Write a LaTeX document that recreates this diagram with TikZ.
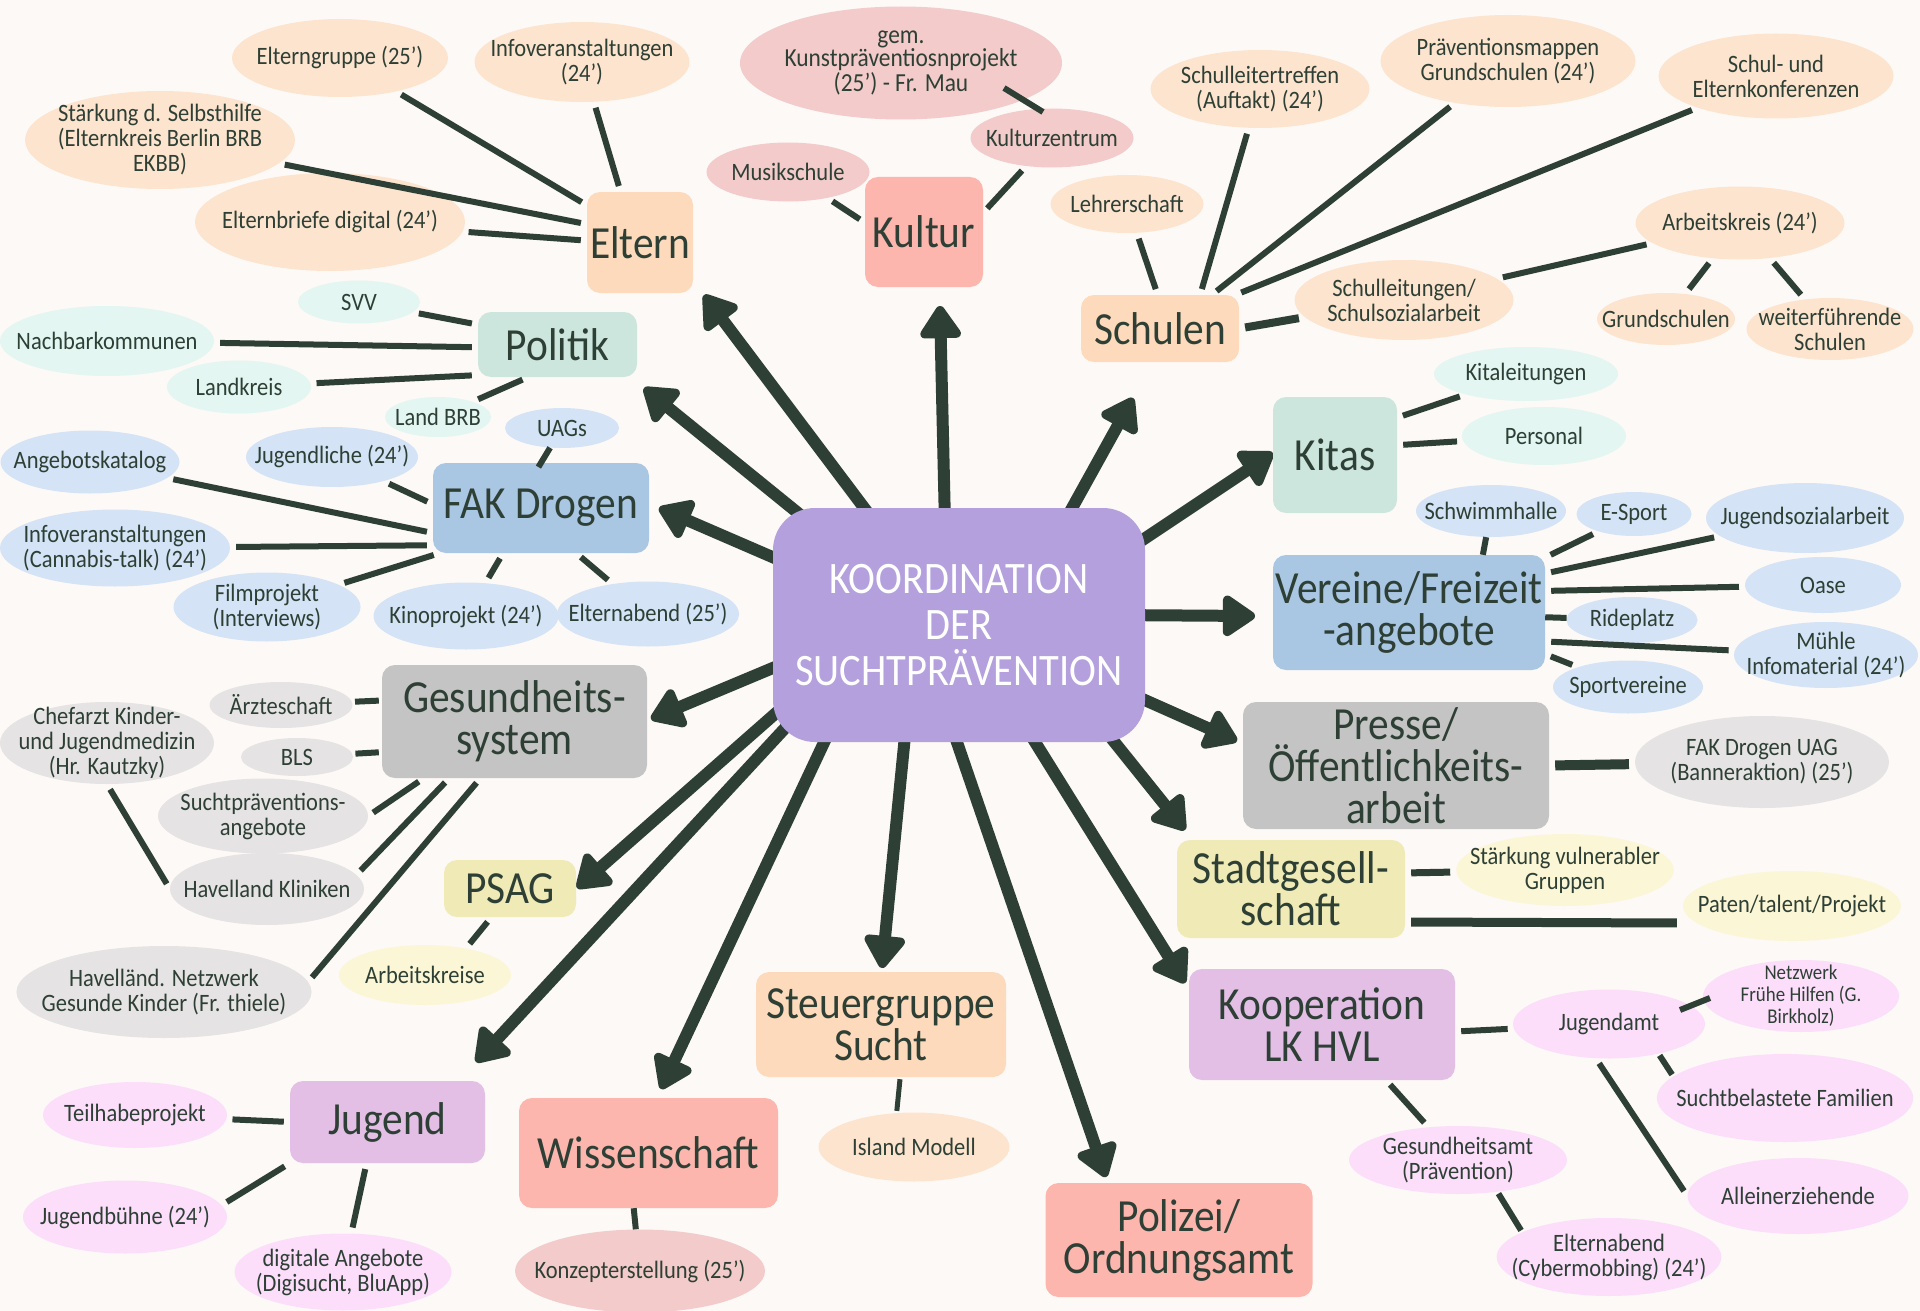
\documentclass[tikz,border=0pt]{standalone}
\usepackage{fontspec}
\setmainfont{Carlito}[FakeStretch=0.9]
\usetikzlibrary{shapes.geometric,arrows.meta,calc}
\pgfdeclarelayer{bg}
\pgfsetlayers{bg,main}
\definecolor{ink}{HTML}{2E4035}
\definecolor{bgc}{HTML}{FDF9F6}
\definecolor{peach}{HTML}{FDDABB}
\definecolor{peachL}{HTML}{FDE4CF}
\definecolor{salmon}{HTML}{FDB6AE}
\definecolor{pinkL}{HTML}{F2CBCA}
\definecolor{mint}{HTML}{CCE6DE}
\definecolor{mintL}{HTML}{E3F6F2}
\definecolor{boxblue}{HTML}{A9C6E3}
\definecolor{blueL}{HTML}{D4E3F5}
\definecolor{grayB}{HTML}{C4C4C4}
\definecolor{grayL}{HTML}{E5E3E3}
\definecolor{yel}{HTML}{F0EBB6}
\definecolor{yelL}{HTML}{FBF6D5}
\definecolor{lav}{HTML}{E3BFE6}
\definecolor{lavL}{HTML}{FCDEFB}
\definecolor{purp}{HTML}{B3A0DD}
\newcommand{\lblf}{\fontsize{25}{25}\selectfont}
\newcommand{\boxf}{\fontsize{46}{42}\selectfont}
\newcommand{\cenf}{\fontsize{45}{46}\selectfont}
\tikzset{
  ell/.style={ellipse, inner xsep=-18pt, inner ysep=-8pt, align=center, text=ink, font=\lblf},
  box/.style={rectangle, rounded corners=13pt, inner sep=0pt, align=center, text=ink, font=\boxf},
  con/.style={draw=ink, line width=6pt, shorten <=6pt, shorten >=6pt},
  tight/.style={shorten <=0pt, shorten >=0pt},
  arr/.style={draw=ink, line width=12pt, shorten <=-30pt, -{Triangle[length=36pt,width=46pt,round]}},
}
\begin{document}
\begin{tikzpicture}[x=1pt,y=-1pt]
\useasboundingbox (0,0) rectangle (1920,1311);

% centre
\node[box, fill=purp, text=white, font=\cenf, minimum width=372, minimum height=234, rounded corners=42pt] (k) at (959,625) {KOORDINATION\\DER\\SUCHTPRÄVENTION};

% main boxes
\node[box, fill=peach, minimum width=106, minimum height=101] (eltern) at (640,242.5) {Eltern};
\node[box, fill=salmon, minimum width=118, minimum height=110] (kultur) at (924,232) {Kultur};
\node[box, fill=peach, minimum width=158, minimum height=67] (schulen) at (1160,328.5) {Schulen};
\node[box, fill=mint, minimum width=159, minimum height=65] (politik) at (557.5,344.5) {Politik};
\node[box, fill=boxblue, minimum width=216, minimum height=90] (fak) at (541,508) {FAK Drogen};
\node[box, fill=mint, minimum width=124, minimum height=116] (kitas) at (1335,455) {Kitas};
\node[box, fill=boxblue, minimum width=272, minimum height=115] (vereine) at (1409,612.5) {Vereine/Freizeit\\-angebote};
\node[box, fill=grayB, minimum width=265, minimum height=113] (gesund) at (514.5,721.5) {Gesundheits-\\system};
\node[box, fill=grayB, minimum width=306, minimum height=127] (presse) at (1396,765.5) {Presse/\\Öffentlichkeits-\\arbeit};
\node[box, fill=yel, minimum width=132, minimum height=57] (psag) at (510,888.5) {PSAG};
\node[box, fill=yel, minimum width=228, minimum height=98] (stadt) at (1291,889) {Stadtgesell-\\schaft};
\node[box, fill=peach, minimum width=250, minimum height=105] (steuer) at (881,1024.5) {Steuergruppe\\Sucht};
\node[box, fill=lav, minimum width=266, minimum height=111] (koop) at (1322,1024.5) {Kooperation\\LK HVL};
\node[box, fill=lav, minimum width=195, minimum height=82] (jugend) at (387.5,1122) {Jugend};
\node[box, fill=salmon, minimum width=259, minimum height=110] (wiss) at (648.5,1153) {Wissenschaft};
\node[box, fill=salmon, minimum width=267, minimum height=114] (polizei) at (1179,1240) {Polizei/\\Ordnungsamt};

% Eltern
\node[ell, fill=peachL, minimum width=216, minimum height=78] (e1) at (340,58) {Elterngruppe (25')};
\node[ell, fill=peachL, minimum width=215, minimum height=80] (e2) at (582,62) {Infoveranstaltungen\\(24')};
\node[ell, fill=peachL, minimum width=270, minimum height=98] (e3) at (160,140) {Stärkung d. Selbsthilfe\\(Elternkreis Berlin BRB\\EKBB)};
\node[ell, fill=peachL, minimum width=270, minimum height=98] (e4) at (330,222) {Elternbriefe digital (24')};
% Kultur
\node[ell, fill=pinkL, minimum width=322, minimum height=113, font=\fontsize{26}{23}\selectfont] (k1) at (901,63) {gem.\\Kunstpräventiosnprojekt\\(25') - Fr. Mau};
\node[ell, fill=pinkL, minimum width=163, minimum height=59] (k2) at (1052,138) {Kulturzentrum};
\node[ell, fill=pinkL, minimum width=163, minimum height=59] (k3) at (788,172) {Musikschule};
% Schulen
\node[ell, fill=peachL, minimum width=219, minimum height=78] (s1) at (1260,89) {Schulleitertreffen\\(Auftakt) (24')};
\node[ell, fill=peachL, minimum width=255, minimum height=92] (s2) at (1508,61) {Präventionsmappen\\Grundschulen (24')};
\node[ell, fill=peachL, minimum width=235, minimum height=85] (s3) at (1776,76) {Schul- und\\Elternkonferenzen};
\node[ell, fill=peachL, minimum width=153, minimum height=58] (s4) at (1127,204) {Lehrerschaft};
\node[ell, fill=peachL, minimum width=219, minimum height=80] (s5) at (1404,300) {Schulleitungen/\\Schulsozialarbeit};
\node[ell, fill=peachL, minimum width=209, minimum height=73] (s6) at (1740,223) {Arbeitskreis (24')};
\node[ell, fill=peachL, minimum width=138, minimum height=52] (s7) at (1666,319) {Grundschulen};
\node[ell, fill=peachL, minimum width=167, minimum height=62] (s8) at (1830,329) {weiterführende\\Schulen};
% Politik
\node[ell, fill=mintL, minimum width=122, minimum height=43] (p1) at (359,302) {SVV};
\node[ell, fill=mintL, minimum width=214, minimum height=70] (p2) at (107,341) {Nachbarkommunen};
\node[ell, fill=mintL, minimum width=144, minimum height=53] (p3) at (239,387) {Landkreis};
\node[ell, fill=mintL, minimum width=106, minimum height=40] (p4) at (438,417) {Land BRB};
% FAK Drogen
\node[ell, fill=blueL, minimum width=114, minimum height=40] (f1) at (562,428) {UAGs};
\node[ell, fill=blueL, minimum width=172, minimum height=60] (f2) at (332,457) {Jugendliche (24')};
\node[ell, fill=blueL, minimum width=179, minimum height=63] (f3) at (90,462) {Angebotskatalog};
\node[ell, fill=blueL, minimum width=230, minimum height=77] (f4) at (115,548) {Infoveranstaltungen\\(Cannabis-talk) (24')};
\node[ell, fill=blueL, minimum width=187, minimum height=69] (f5) at (267,607) {Filmprojekt\\(Interviews)};
\node[ell, fill=blueL, minimum width=185, minimum height=67] (f6) at (466,616) {Kinoprojekt (24')};
\node[ell, fill=blueL, minimum width=182, minimum height=65] (f7) at (648,614) {Elternabend (25')};
% Kitas
\node[ell, fill=mintL, minimum width=184, minimum height=54] (t1) at (1526,374) {Kitaleitungen};
\node[ell, fill=mintL, minimum width=164, minimum height=58] (t2) at (1544,436) {Personal};
% Vereine
\node[ell, fill=blueL, minimum width=150, minimum height=52] (v1) at (1491,511) {Schwimmhalle};
\node[ell, fill=blueL, minimum width=115, minimum height=44] (v2) at (1634,514) {E-Sport};
\node[ell, fill=blueL, minimum width=198, minimum height=70] (v3) at (1805,518) {Jugendsozialarbeit};
\node[ell, fill=blueL, minimum width=156, minimum height=56] (v4) at (1823,585) {Oase};
\node[ell, fill=blueL, minimum width=131, minimum height=46] (v5) at (1632,620) {Rideplatz};
\node[ell, fill=blueL, minimum width=184, minimum height=66] (v6) at (1826,655) {Mühle\\Infomaterial (24')};
\node[ell, fill=blueL, minimum width=150, minimum height=53] (v7) at (1628,687) {Sportvereine};
% Gesundheitssystem
\node[ell, fill=grayL, minimum width=143, minimum height=46] (g1) at (281,705) {Ärzteschaft};
\node[ell, fill=grayL, minimum width=112, minimum height=38] (g2) at (297,757) {BLS};
\node[ell, fill=grayL, minimum width=214, minimum height=82] (g3) at (107,743) {Chefarzt Kinder-\\und Jugendmedizin\\(Hr. Kautzky)};
\node[ell, fill=grayL, minimum width=210, minimum height=75] (g4) at (263,816) {Suchtpräventions-\\angebote};
\node[ell, fill=grayL, minimum width=194, minimum height=72] (g5) at (267,889) {Havelland Kliniken};
\node[ell, fill=grayL, minimum width=288, minimum height=92] (g6) at (164,992) {Havelländ. Netzwerk\\Gesunde Kinder (Fr. thiele)};
% PSAG
\node[ell, fill=yelL, minimum width=172, minimum height=60] (a1) at (425,975) {Arbeitskreise};
% Presse
\node[ell, fill=grayL, minimum width=254, minimum height=92] (pr1) at (1762,762) {FAK Drogen UAG\\(Banneraktion) (25')};
% Stadtgesellschaft
\node[ell, fill=yelL, minimum width=216, minimum height=72] (st1) at (1565,870) {Stärkung vulnerabler\\Gruppen};
\node[ell, fill=yelL, minimum width=218, minimum height=70] (st2) at (1792,906) {Paten/talent/Projekt};
% Kooperation
\node[ell, fill=lavL, minimum width=192, minimum height=69] (c1) at (1609,1024) {Jugendamt};
\node[ell, fill=lavL, minimum width=196, minimum height=72, font=\fontsize{21}{22}\selectfont] (c2) at (1801,996) {Netzwerk\\Frühe Hilfen (G.\\Birkholz)};
\node[ell, fill=lavL, minimum width=248, minimum height=88] (c3) at (1785,1098) {Suchtbelastete Familien};
\node[ell, fill=lavL, minimum width=221, minimum height=76] (c4) at (1798,1196) {Alleinerziehende};
\node[ell, fill=lavL, minimum width=218, minimum height=68] (c5) at (1458,1160) {Gesundheitsamt\\(Prävention)};
\node[ell, fill=lavL, minimum width=216, minimum height=78] (c6) at (1609,1257) {Elternabend\\(Cybermobbing) (24')};
% Steuergruppe
\node[ell, fill=peachL, minimum width=191, minimum height=69] (i1) at (914,1147) {Island Modell};
% Jugend
\node[ell, fill=lavL, minimum width=184, minimum height=66] (j1) at (135,1115) {Teilhabeprojekt};
\node[ell, fill=lavL, minimum width=204, minimum height=73] (j2) at (125,1217) {Jugendbühne (24')};
\node[ell, fill=lavL, minimum width=217, minimum height=77] (j3) at (343,1272) {digitale Angebote\\(Digisucht, BluApp)};
% Wissenschaft
\node[ell, fill=pinkL, minimum width=250, minimum height=83] (w1) at (640,1271) {Konzepterstellung (25')};

% background and arrows
\begin{pgfonlayer}{bg}
\fill[bgc] (0,0) rectangle (1920,1311);
\draw[arr] (k.129) -- ($(eltern)+(64,52.5)$);
\draw[arr] (k.145) -- ($(politik)+(86.5,43.5)$);
\draw[arr] (k.97) -- ($(kultur)+(16,74)$);
\draw[arr] (k.46) -- ($(schulen)+(-27,69.5)$);
\draw[arr] (k.25) -- ($(kitas)+(-62,-2)$);
\draw[arr] (k.160) -- ($(fak)+(118,0)$);
\draw[arr] (k.3) -- ($(vereine)+(-154,3.5)$);
\draw[arr] (k.-22) -- ($(presse)+(-159,-24.5)$);
\draw[arr] (k.-37) -- ($(stadt)+(-106,-59)$);
\draw[arr] (k.-57) -- ($(koop)+(-137,-41.5)$);
\draw[arr] (k.-91) -- ($(polizei)+(-73,-63)$);
\draw[arr] (k.-115) -- ($(steuer)+(1,-56.5)$);
\draw[arr] (k.-139) -- ($(wiss)+(12.5,-64)$);
\draw[arr] (k.-148) -- ($(jugend)+(88.5,-60)$);
\draw[arr] (k.-154) -- ($(psag)+(67,-0.5)$);
\draw[arr] (k.-167) -- ($(gesund)+(136.5,-2.5)$);
\end{pgfonlayer}

% connectors
\draw[con] (e1) -- (eltern.145);
\draw[con] (e2) -- (eltern.111);
\draw[con] (e3) -- (eltern.161);
\draw[con] (e4) -- (eltern.178);
\draw[con, tight] ($(k1)+(103,25)$) -- ($(k2)+(-9,-26)$);
\draw[con] (k2) -- (kultur.18);
\draw[con] (k3) -- (kultur.171);
\draw[con] (s4) -- (schulen.94);
\draw[con] (s1) -- (schulen.40);
\draw[con] (s2) -- (schulen.33);
\draw[con] (s3) -- (schulen.24);
\draw[con, line width=8pt] (schulen.east) -- (s5);
\draw[con] (s5) -- (s6);
\draw[con] (s6) -- (s7);
\draw[con] (s6) -- (s8);
\draw[con] (p1) -- (politik.166);
\draw[con] (p2) -- (politik.182);
\draw[con] (p3) -- (politik.201);
\draw[con] (p4) -- (politik.-132);
\draw[con, shorten <=0pt, shorten >=-5pt] (f1) -- (fak.90);
\draw[con] (f2) -- (fak.178);
\draw[con] (f3) -- (fak.-167);
\draw[con] (f4) -- (fak.-161);
\draw[con] (f5) -- (fak.-156);
\draw[con] (f6) -- (fak.-130);
\draw[con] (f7) -- (fak.-52);
\draw[con] (t1) -- (kitas.31);
\draw[con] (t2) -- (kitas.9);
\draw[con, tight] (v1) -- (vereine.38);
\draw[con] (v2) -- (vereine.22);
\draw[con] (v3) -- (vereine.16);
\draw[con] (v4) -- (vereine.9);
\draw[con, tight] (v5) -- (vereine.-2);
\draw[con] (v6) -- (vereine.-12);
\draw[con] (v7) -- (vereine.-17);
\draw[con, shorten <=3pt, shorten >=3pt] (g1) -- (gesund.171);
\draw[con, shorten <=3pt, shorten >=3pt] (g2) -- (gesund.-167);
\draw[con] (g4.east) -- (gesund.-148);
\draw[con] (g5.9) -- (gesund.-139);
\draw[con] (g6.4) -- (gesund.-121);
\draw[con] (g3.south) -- (g5.west);
\draw[con] (a1.33) -- (psag.-123);
\draw[con, line width=10pt] (presse.east) -- (pr1);
\draw[con, line width=7pt] (stadt.8) -- (st1);
\draw[con, line width=9pt] ($(stadt.east)+(0,33)$) -- ($(st2.west)+(0,17)$);
\draw[con] (koop.-3) -- (c1);
\draw[con, tight] ($(c1)+(71,-14)$) -- ($(c2)+(-91,2)$);
\draw[con, shorten <=2pt, shorten >=2pt] (c1.-31) -- (c3.169);
\draw[con] (c1.-111) -- (c4.180);
\draw[con] (koop.-41) -- (c5);
\draw[con, shorten <=2pt, shorten >=2pt] (c5.-39) -- (c6.164);
\draw[con, line width=5pt, shorten <=2pt, shorten >=2pt] (steuer.-70) -- (i1.117);
\draw[con] (j1) -- (jugend.west);
\draw[con] (j2.7) -- (jugend.south west);
\draw[con] (j3) -- (jugend.-117);
\draw[con, tight] (w1) -- (wiss.-105);
\end{tikzpicture}
\end{document}
